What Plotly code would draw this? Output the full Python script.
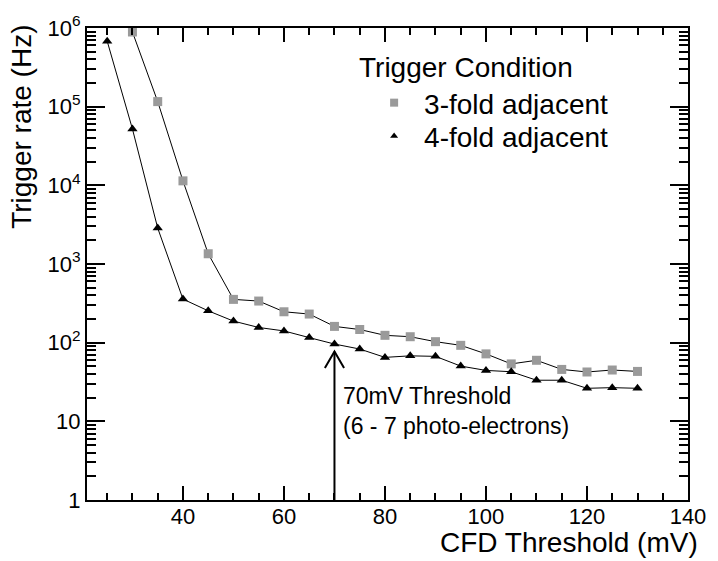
import math
import plotly.graph_objects as go

# ---- data ----
x_3fold = [30, 35, 40, 45, 50, 55, 60, 65, 70, 75, 80, 85, 90, 95, 100, 105, 110, 115, 120, 125, 130]
y_3fold = [8.9e5, 1.16e5, 11400, 1350, 355, 338, 247, 231, 161, 147, 124, 119, 103, 92.5, 72, 53.7, 59.7, 45.7, 42.4, 44.9, 43.1]

x_4fold = [25, 30, 35, 40, 45, 50, 55, 60, 65, 70, 75, 80, 85, 90, 95, 100, 105, 110, 115, 120, 125, 130]
y_4fold = [6.8e5, 52000, 2860, 358, 254, 188, 156, 141, 116, 96, 83, 65, 68, 67, 50.4, 44.4, 42.7, 33.3, 33.3, 26.3, 26.8, 26.3]

series_names = ["3-fold adjacent", "4-fold adjacent"]
legend_title = "Trigger Condition"

y_tickvals = [1, 10, 100, 1e3, 1e4, 1e5, 1e6]
y_ticktext = ["1", "10", "10<sup>2</sup>", "10<sup>3</sup>", "10<sup>4</sup>", "10<sup>5</sup>", "10<sup>6</sup>"]
x_tickvals = [40, 60, 80, 100, 120, 140]

# threshold arrow (from y=1 up to the tip value at x=70 mV)
arrow_x = 70
arrow_base = 1
arrow_tip = 77

FONT = "Liberation Sans, Arial, Helvetica, sans-serif"
GRAY = "#9a9a9a"
HEAD_DX = 1.9      # half-width of the open arrow head (x units)
HEAD_DLOG = 0.21   # length of the arrow head (decades)

fig = go.Figure()
# data traces
fig.add_trace(go.Scatter(
    x=x_3fold, y=y_3fold, mode="lines+markers", showlegend=False,
    line=dict(color="black", width=1),
    marker=dict(symbol="square", size=9, color=GRAY),
))
fig.add_trace(go.Scatter(
    x=x_4fold, y=y_4fold, mode="lines+markers", showlegend=False,
    line=dict(color="black", width=1),
    marker=dict(symbol="triangle-up", size=9, color="black"),
))
# legend entries (marker only)
fig.add_trace(go.Scatter(
    x=[None], y=[None], mode="markers", name=series_names[0], legend="legend",
    marker=dict(symbol="square", size=8, color=GRAY),
))
fig.add_trace(go.Scatter(
    x=[None], y=[None], mode="markers", name=series_names[1], legend="legend2",
    marker=dict(symbol="triangle-up", size=7, color="black"),
))

# arrow: shaft + open V head
head_low = arrow_tip / (10 ** HEAD_DLOG)
fig.add_trace(go.Scatter(
    x=[arrow_x, arrow_x, None, arrow_x - HEAD_DX, arrow_x, arrow_x + HEAD_DX],
    y=[arrow_base, arrow_tip, None, head_low, arrow_tip, head_low],
    mode="lines", line=dict(color="black", width=2), showlegend=False,
    hoverinfo="skip",
))

fig.add_annotation(
    x=71.2, y=0.188, xref="x", yref="paper",
    text="70mV Threshold<br>(6 - 7 photo-electrons)",
    showarrow=False, xanchor="left", yanchor="middle", align="left",
    font=dict(size=23, color="black", family=FONT),
)
fig.add_annotation(
    x=1.02, y=-0.054, xref="paper", yref="paper",
    text="CFD Threshold (mV)", showarrow=False,
    xanchor="right", yanchor="top",
    font=dict(size=28, color="black", family=FONT),
)
fig.add_annotation(
    x=-0.1383, y=1.0117, xref="paper", yref="paper",
    text="Trigger rate (Hz)", showarrow=False, textangle=-90,
    xanchor="left", yanchor="top",
    font=dict(size=28, color="black", family=FONT),
)
fig.add_annotation(
    x=0.449, y=0.9156, xref="paper", yref="paper",
    text=legend_title, showarrow=False,
    xanchor="left", yanchor="middle",
    font=dict(size=28, color="black", family=FONT),
)

leg_common = dict(
    x=0.4611, xanchor="left", yanchor="middle",
    font=dict(size=28, color="black", family=FONT), bgcolor="rgba(0,0,0,0)",
    itemwidth=50,
)

fig.update_layout(
    width=718, height=561,
    margin=dict(l=87, r=21, t=17, b=61),
    paper_bgcolor="white", plot_bgcolor="white",
    font=dict(family=FONT, size=22, color="black"),
    showlegend=True,
    legend=dict(y=0.8412, **leg_common),
    legend2=dict(y=0.7708, **leg_common),
    xaxis=dict(
        range=[21, 140], tickvals=x_tickvals, ticks="inside", ticklen=14,
        tickwidth=1.5, tickcolor="black", showline=True, linewidth=2,
        linecolor="black", mirror="ticks", showgrid=False, zeroline=False,
        tickfont=dict(size=22), ticklabelstandoff=-4,
        minor=dict(dtick=5, tick0=0, ticks="inside", ticklen=7, tickwidth=1.5,
                   tickcolor="black", showgrid=False),
    ),
    yaxis=dict(
        type="log", range=[0, 6], tickvals=y_tickvals, ticktext=y_ticktext,
        ticks="inside", ticklen=18, tickwidth=1.5, tickcolor="black",
        showline=True, linewidth=2, linecolor="black", mirror="ticks",
        showgrid=False, zeroline=False, tickfont=dict(size=22),
        minor=dict(dtick="D1", ticks="inside", ticklen=9, tickwidth=1.5,
                   tickcolor="black", showgrid=False),
    ),
)

fig.write_html("out.html")
